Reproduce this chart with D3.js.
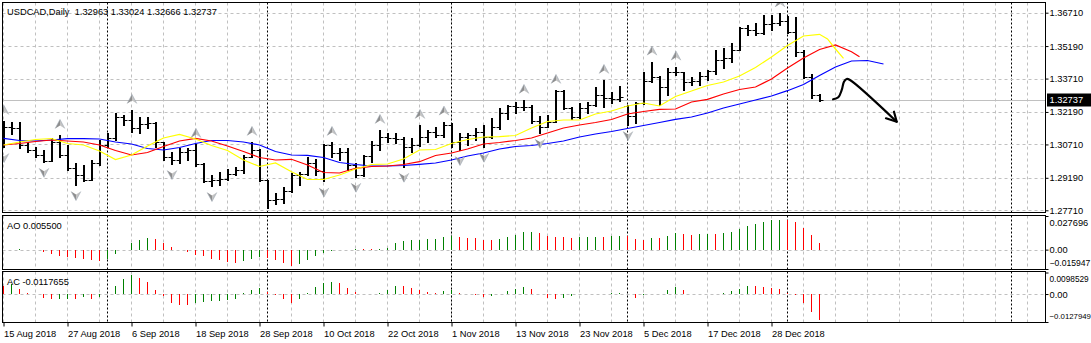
<!DOCTYPE html>
<html>
<head>
<meta charset="utf-8">
<script src="https://cdn.jsdelivr.net/npm/d3@7"></script>
<style>
  html, body { margin: 0; padding: 0; background: #ffffff; }
  svg { display: block; }
  text { font-family: "Liberation Sans", Arial, sans-serif; font-size: 9.3px; fill: #000; white-space: pre; }
</style>
</head>
<body>
<svg id="chart" width="1091" height="343"></svg>
<script>
// ---------------- USDCAD daily bars (index 0 = 15 Aug 2018) ----------------
const opens = [
  1.30900, 1.31504, 1.31481, 1.30684, 1.30457, 1.30229, 1.29955, 1.30835, 1.30229, 1.29637,
  1.29318, 1.29090, 1.29851, 1.30684, 1.31003, 1.31973, 1.31823, 1.31459, 1.31641, 1.31664,
  1.30821, 1.30138, 1.30001, 1.30379, 1.30457, 1.29819, 1.29044, 1.29090, 1.29113, 1.29363,
  1.29546, 1.30151, 1.30457, 1.29090, 1.28179, 1.28225, 1.28589, 1.29318, 1.29363, 1.29851,
  1.29500, 1.30684, 1.30320, 1.30343, 1.29773, 1.29318, 1.30183, 1.30684, 1.31049, 1.31003,
  1.30980, 1.30607, 1.30684, 1.31049, 1.31276, 1.31140, 1.31595, 1.30835, 1.31049, 1.31140,
  1.31290, 1.31049, 1.31518, 1.32128, 1.32461, 1.32402, 1.32415, 1.31791, 1.31518, 1.31746,
  1.33158, 1.32356, 1.31973, 1.32356, 1.32506, 1.32962, 1.32811, 1.32766, 1.32461, 1.32005,
  1.32584, 1.33600, 1.33795, 1.33340, 1.34023, 1.34009, 1.33568, 1.33600, 1.33827, 1.34069,
  1.34556, 1.34633, 1.35012, 1.36000, 1.35923, 1.35772, 1.36196, 1.36219, 1.36346, 1.35831,
  1.34934, 1.33768, 1.32963
];
const highs = [
  1.31777, 1.31732, 1.31709, 1.30835, 1.30607, 1.30457, 1.31003, 1.31140, 1.30684, 1.29851,
  1.29773, 1.30001, 1.30912, 1.31217, 1.32128, 1.32051, 1.32279, 1.31973, 1.31973, 1.31746,
  1.30835, 1.30379, 1.30534, 1.30534, 1.30730, 1.29864, 1.29318, 1.29468, 1.29591, 1.29696,
  1.30229, 1.30821, 1.30480, 1.29110, 1.28498, 1.28771, 1.29395, 1.29468, 1.30151, 1.30033,
  1.30730, 1.30821, 1.30534, 1.30534, 1.29851, 1.30229, 1.30880, 1.31368, 1.31217, 1.31217,
  1.31062, 1.30989, 1.31595, 1.31368, 1.31518, 1.31746, 1.31700, 1.31217, 1.31217, 1.31445,
  1.31595, 1.31900, 1.32356, 1.32506, 1.32657, 1.32734, 1.32506, 1.32005, 1.32051, 1.33190,
  1.33170, 1.32429, 1.32584, 1.32657, 1.33313, 1.33645, 1.33112, 1.33372, 1.32506, 1.32657,
  1.34023, 1.34479, 1.33827, 1.34178, 1.34251, 1.34023, 1.33795, 1.34023, 1.34101, 1.35012,
  1.35089, 1.35344, 1.36073, 1.36150, 1.36228, 1.36606, 1.36583, 1.36674, 1.36560, 1.36515,
  1.35012, 1.33918, 1.33024
];
const lows = [
  1.30593, 1.31185, 1.30548, 1.30379, 1.30151, 1.29918, 1.29940, 1.30151, 1.29546, 1.28862,
  1.29026, 1.29081, 1.29773, 1.30607, 1.30912, 1.31595, 1.31290, 1.31217, 1.31445, 1.30607,
  1.30001, 1.29819, 1.29851, 1.30001, 1.29728, 1.28981, 1.28817, 1.28862, 1.29090, 1.29340,
  1.29395, 1.30138, 1.29026, 1.27815, 1.27997, 1.28042, 1.28557, 1.28862, 1.29318, 1.29318,
  1.29026, 1.30151, 1.30001, 1.29546, 1.29240, 1.29290, 1.29918, 1.30457, 1.30835, 1.30762,
  1.29696, 1.30379, 1.30639, 1.30835, 1.31035, 1.31062, 1.30607, 1.30457, 1.30684, 1.30912,
  1.30607, 1.31020, 1.31399, 1.31855, 1.32156, 1.32279, 1.31700, 1.31245, 1.31491, 1.31720,
  1.32310, 1.31855, 1.31900, 1.32128, 1.32461, 1.32429, 1.32584, 1.32700, 1.31595, 1.31673,
  1.32552, 1.33568, 1.32506, 1.32962, 1.33873, 1.33190, 1.33417, 1.33417, 1.33645, 1.33918,
  1.34178, 1.34479, 1.34990, 1.35695, 1.35695, 1.35750, 1.35923, 1.36150, 1.35772, 1.34738,
  1.33740, 1.32811, 1.32666
];
const closes = [
  1.31504, 1.31481, 1.30684, 1.30457, 1.30229, 1.29955, 1.30835, 1.30229, 1.29637, 1.29318,
  1.29090, 1.29851, 1.30684, 1.31003, 1.31973, 1.31823, 1.31459, 1.31641, 1.31664, 1.30821,
  1.30138, 1.30001, 1.30379, 1.30457, 1.29819, 1.29044, 1.29090, 1.29113, 1.29363, 1.29546,
  1.30151, 1.30457, 1.29090, 1.28179, 1.28225, 1.28589, 1.29318, 1.29363, 1.29851, 1.29500,
  1.30684, 1.30320, 1.30343, 1.29773, 1.29318, 1.30183, 1.30684, 1.31049, 1.31003, 1.30980,
  1.30607, 1.30684, 1.31049, 1.31276, 1.31140, 1.31595, 1.30835, 1.31049, 1.31140, 1.31290,
  1.31049, 1.31518, 1.32128, 1.32461, 1.32402, 1.32415, 1.31791, 1.31518, 1.31746, 1.33158,
  1.32356, 1.31973, 1.32356, 1.32506, 1.32962, 1.32811, 1.32766, 1.32857, 1.32005, 1.32584,
  1.33600, 1.33795, 1.33340, 1.34023, 1.34009, 1.33568, 1.33600, 1.33827, 1.34069, 1.34556,
  1.34633, 1.35012, 1.36000, 1.35923, 1.35772, 1.36196, 1.36219, 1.36346, 1.35831, 1.34934,
  1.33768, 1.32963, 1.32737
];

// Bill Williams fractals (bar indices)
const fractalUp = [0, 7, 16, 24, 31, 41, 47, 52, 55, 65, 69, 75, 81, 84, 97];
const fractalDown = [0, 5, 9, 21, 26, 33, 40, 44, 50, 57, 60, 67, 78];

// Alligator lines, [bar, price]; already shifted forward (jaw 8, teeth 5, lips 3)
const jaw = [
  [0,1.30989],[2,1.30889],[4,1.30866],[6,1.30912],[8,1.30971],[10,1.30971],[12,1.30958],[14,1.30821],
  [16,1.30730],[18,1.30525],[20,1.30457],[22,1.30570],[24,1.30753],[26,1.30889],[28,1.30889],[30,1.30821],
  [32,1.30684],[34,1.30388],[36,1.30229],[38,1.30215],[40,1.30115],[42,1.29887],[44,1.29796],[46,1.29728],
  [48,1.29728],[50,1.29751],[52,1.29805],[54,1.29864],[56,1.30001],[58,1.30183],[60,1.30320],[62,1.30502],
  [64,1.30616],[66,1.30662],[68,1.30753],[70,1.30866],[72,1.31049],[74,1.31185],[76,1.31299],[78,1.31436],
  [80,1.31573],[82,1.31709],[84,1.31855],[86,1.31960],[88,1.32142],[90,1.32370],[92,1.32552],[94,1.32734],
  [96,1.32916],[98,1.33158],[100,1.33440],[102,1.33850],[104,1.34237],[106,1.34511],[108,1.34533],[110,1.34374]
];
const teeth = [
  [0,1.30684],[2,1.30753],[4,1.30844],[6,1.30912],[8,1.30866],[10,1.30821],[12,1.30684],[14,1.30434],
  [16,1.30229],[18,1.30343],[20,1.30616],[22,1.30866],[24,1.30989],[26,1.30866],[28,1.30639],[30,1.30388],
  [32,1.30115],[34,1.30001],[36,1.30033],[38,1.29773],[40,1.29432],[42,1.29409],[44,1.29623],[46,1.29705],
  [48,1.29728],[50,1.29796],[52,1.29924],[54,1.30206],[56,1.30320],[58,1.30502],[60,1.30730],[62,1.30798],
  [64,1.30889],[66,1.31003],[68,1.31231],[70,1.31459],[72,1.31595],[74,1.31709],[76,1.31846],[78,1.32096],
  [80,1.32210],[82,1.32310],[84,1.32324],[86,1.32643],[88,1.32766],[90,1.33007],[92,1.33212],[94,1.33326],
  [96,1.33691],[98,1.34192],[100,1.34647],[102,1.35034],[104,1.35239],[106,1.34934],[107,1.34706]
];
const lips = [
  [0,1.30684],[2,1.30821],[4,1.30935],[6,1.30980],[8,1.30753],[10,1.30684],[12,1.30411],[14,1.30024],
  [16,1.30229],[18,1.30639],[20,1.31003],[22,1.31163],[24,1.30958],[26,1.30661],[28,1.30434],[30,1.30001],
  [32,1.29705],[34,1.29864],[36,1.29468],[38,1.29113],[40,1.29113],[42,1.29318],[44,1.29591],[46,1.29796],
  [48,1.29819],[50,1.30047],[52,1.30457],[54,1.30479],[56,1.30753],[58,1.30935],[60,1.31049],[62,1.31067],
  [64,1.31117],[66,1.31459],[68,1.31755],[70,1.31823],[72,1.31823],[74,1.32096],[76,1.32233],[78,1.32461],
  [80,1.32597],[82,1.32461],[84,1.32893],[86,1.33144],[88,1.33394],[90,1.33554],[92,1.33827],[94,1.34215],
  [96,1.34693],[98,1.35217],[100,1.35649],[102,1.35727],[103,1.35513],[104,1.35057],[105,1.34633]
];

// Awesome Oscillator and Accelerator/Decelerator values per bar
const aoPrev = 0.0000;
const ao = [
  0.0001, 0.0000, 0.0002, 0.0000, -0.0003, -0.0020, -0.0034, -0.0050, -0.0060, -0.0069,
  -0.0077, -0.0086, -0.0094, -0.0077, -0.0034, -0.0003, 0.0054, 0.0076, 0.0098, 0.0087,
  0.0054, 0.0024, 0.0001, -0.0020, -0.0042, -0.0055, -0.0075, -0.0083, -0.0105, -0.0110,
  -0.0096, -0.0075, -0.0063, -0.0066, -0.0083, -0.0110, -0.0133, -0.0115, -0.0085, -0.0055,
  -0.0030, -0.0012, -0.0003, -0.0001, 0.0004, 0.0003, 0.0002, 0.0004, 0.0012, 0.0054,
  0.0068, 0.0076, 0.0082, 0.0086, 0.0088, 0.0104, 0.0110, 0.0102, 0.0096, 0.0095,
  0.0082, 0.0077, 0.0088, 0.0104, 0.0118, 0.0143, 0.0145, 0.0137, 0.0115, 0.0104,
  0.0103, 0.0096, 0.0104, 0.0105, 0.0107, 0.0105, 0.0110, 0.0115, 0.0110, 0.0088,
  0.0082, 0.0096, 0.0095, 0.0115, 0.0137, 0.0132, 0.0121, 0.0129, 0.0132, 0.0129,
  0.0137, 0.0145, 0.0173, 0.0198, 0.0214, 0.0231, 0.0242, 0.0247, 0.0242, 0.0225,
  0.0178, 0.0121, 0.005500
];
const acPrev = 0.0040;
const ac = [
  0.0036, 0.0044, 0.0024, 0.0006, 0.0001, -0.0017, -0.0024, -0.0023, -0.0021, -0.0022,
  -0.0015, -0.0021, -0.0012, -0.0002, 0.0039, 0.0069, 0.0085, 0.0074, 0.0056, 0.0020,
  -0.0009, -0.0039, -0.0051, -0.0052, -0.0042, -0.0036, -0.0032, -0.0030, -0.0027, -0.0021,
  0.0006, 0.0018, 0.0029, 0.0011, -0.0006, -0.0024, -0.0039, -0.0024, 0.0006, 0.0033,
  0.0051, 0.0056, 0.0051, 0.0029, 0.0010, 0.0000, -0.0001, 0.0006, 0.0018, 0.0039,
  0.0036, 0.0028, 0.0018, 0.0011, 0.0006, 0.0015, 0.0018, 0.0006, 0.0000, -0.0005,
  -0.0012, -0.0009, 0.0002, 0.0014, 0.0024, 0.0033, 0.0024, 0.0002, -0.0017, -0.0021,
  -0.0017, -0.0009, 0.0000, 0.0001, 0.0002, 0.0001, 0.0003, 0.0006, 0.0000, -0.0017,
  -0.0004, -0.0002, 0.0002, 0.0018, 0.0033, 0.0018, 0.0002, 0.0000, -0.0001, -0.0002,
  0.0003, 0.0012, 0.0024, 0.0039, 0.0037, 0.0033, 0.0027, 0.0021, 0.0006, -0.0006,
  -0.0042, -0.0080, -0.0117655
];

// Axis labels
const priceTicks = [1.36710, 1.35190, 1.33710, 1.32190, 1.30710, 1.29190, 1.27710];
const aoRange = [-0.015947, 0.027696];
const acRange = [-0.0127949, 0.0098529];
const dateBars = [0, 8, 16, 24, 32, 40, 48, 56, 64, 72, 80, 88, 96];
const dateLabels = ["15 Aug 2018", "27 Aug 2018", "6 Sep 2018", "18 Sep 2018", "28 Sep 2018",
  "10 Oct 2018", "22 Oct 2018", "1 Nov 2018", "13 Nov 2018", "23 Nov 2018", "5 Dec 2018",
  "17 Dec 2018", "28 Dec 2018"];
const monthStarts = [13, 33, 56, 78, 98, 126];
const symbol = "USDCAD,Daily";
const lastBid = 1.32737;

// Hand-drawn forecast arrow, [bar, price]
const forecastPath = [[103.7,1.32766],[104.35,1.32857],[104.78,1.33190],[105.06,1.33568],
  [105.4,1.33691],[105.81,1.33645],[111.65,1.31746]];
const forecastHead = [[110.31,1.31900],[111.65,1.31746],[111.31,1.32201]];

// ---------------- layout ----------------
const L = 2.5, R = 1045.5;
const main = { top: 2.5, bottom: 212.5 };
const aoP = { top: 215.5, bottom: 269.5 };
const acP = { top: 271.5, bottom: 322.5 };

const svg = d3.select("#chart");
const x = d3.scaleLinear().domain([0, 1]).range([3.5, 11.5]);
const y = d3.scaleLinear().domain([1.2771, 1.3671]).range([210.3, 12.7]);
const yAO = d3.scaleLinear().domain(aoRange).range([269, 216]);
const yAC = d3.scaleLinear().domain(acRange).range([322, 272.5]);
const snap = v => Math.round(v) + 0.5;

// clip paths for the panels
const defs = svg.append("defs");
[["clipMain", main], ["clipAO", aoP], ["clipAC", acP]].forEach(([id, p]) => {
  defs.append("clipPath").attr("id", id).append("rect")
    .attr("x", L).attr("y", p.top).attr("width", R - L).attr("height", p.bottom - p.top);
});

const gridColor = "#c0c0c0";
const lastBar = 130;
const gridBars = d3.range(0, lastBar, 4).filter(i => x(i) < R - 2);

function panelGrid(p, clip) {
  const g = svg.append("g").attr("clip-path", `url(#${clip})`);
  g.selectAll("line.vg").data(gridBars).join("line")
    .attr("x1", d => x(d)).attr("x2", d => x(d))
    .attr("y1", p.top).attr("y2", p.bottom)
    .attr("stroke", gridColor).attr("stroke-dasharray", "3,3");
  g.selectAll("line.sep").data(monthStarts).join("line")
    .attr("x1", d => x(d)).attr("x2", d => x(d))
    .attr("y1", p.top).attr("y2", p.bottom)
    .attr("stroke", "#000").attr("stroke-dasharray", "2,2");
  return g;
}

// ---------------- main price panel ----------------
const gMain = panelGrid(main, "clipMain");
gMain.selectAll("line.hg").data(priceTicks).join("line")
  .attr("x1", L).attr("x2", R)
  .attr("y1", d => snap(y(d))).attr("y2", d => snap(y(d)))
  .attr("stroke", gridColor).attr("stroke-dasharray", "3,3");

// bid line
gMain.append("line")
  .attr("x1", L).attr("x2", R)
  .attr("y1", snap(y(lastBid))).attr("y2", snap(y(lastBid)))
  .attr("stroke", "#c0c0c0");

// OHLC bars: 2px stem, 1px open/close ticks
const bars = gMain.append("g").attr("stroke", "#000");
closes.forEach((c, i) => {
  const cx = x(i);
  const yh = Math.round(y(highs[i])), yl = Math.round(y(lows[i]));
  bars.append("line").attr("x1", cx + 0.5).attr("x2", cx + 0.5).attr("y1", yh).attr("y2", yl + 1)
    .attr("stroke-width", 2);
  bars.append("line").attr("x1", cx - 3).attr("x2", cx).attr("y1", snap(y(opens[i]))).attr("y2", snap(y(opens[i])));
  bars.append("line").attr("x1", cx + 1).attr("x2", cx + 4).attr("y1", snap(y(closes[i]))).attr("y2", snap(y(closes[i])));
});

// Alligator
const alligatorLine = d3.line().x(d => x(d[0])).y(d => y(d[1]));
[[jaw, "#0000ff"], [teeth, "#ff0000"], [lips, "#ffff00"]].forEach(([pts, col]) => {
  gMain.append("path").datum(pts).attr("d", alligatorLine)
    .attr("fill", "none").attr("stroke", col).attr("stroke-width", 1.2);
});

// Fractals
function fractal(g, cx, cy, up) {
  const s = up ? 1 : -1;
  g.append("path")
    .attr("d", `M${cx},${cy - 4.5 * s} L${cx - 4.8},${cy + 4.5 * s} L${cx},${cy + 1.6 * s} Z`)
    .attr("fill", "#8e8e8e");
  g.append("path")
    .attr("d", `M${cx},${cy - 4.5 * s} L${cx + 4.8},${cy + 4.5 * s} L${cx},${cy + 1.6 * s} Z`)
    .attr("fill", "#c4c4c4");
  g.append("path")
    .attr("d", `M${cx - 4.8},${cy + 4.5 * s} L${cx},${cy - 4.5 * s} L${cx + 4.8},${cy + 4.5 * s}`)
    .attr("fill", "none").attr("stroke", "#9aa4b0").attr("stroke-width", 0.6);
}
const gFr = gMain.append("g");
fractalUp.forEach(i => fractal(gFr, x(i) + 0.5, y(highs[i]) - 11, true));
fractalDown.forEach(i => fractal(gFr, x(i) + 0.5, y(lows[i]) + 11, false));

// forecast arrow
const fLine = d3.line().x(d => x(d[0])).y(d => y(d[1])).curve(d3.curveCatmullRom.alpha(0.5));
gMain.append("path").datum(forecastPath).attr("d", fLine)
  .attr("fill", "none").attr("stroke", "#000").attr("stroke-width", 2.2)
  .attr("stroke-linecap", "round").attr("stroke-linejoin", "round");
gMain.append("path").datum(forecastHead).attr("d", d3.line().x(d => x(d[0])).y(d => y(d[1])))
  .attr("fill", "none").attr("stroke", "#000").attr("stroke-width", 2.2)
  .attr("stroke-linecap", "round").attr("stroke-linejoin", "round");

// ---------------- AO panel ----------------
const gAO = panelGrid(aoP, "clipAO");
gAO.append("line").attr("x1", L).attr("x2", R)
  .attr("y1", snap(yAO(0))).attr("y2", snap(yAO(0)))
  .attr("stroke", gridColor).attr("stroke-dasharray", "3,3");
gAO.selectAll("line.ao").data(ao).join("line")
  .attr("x1", (d, i) => x(i)).attr("x2", (d, i) => x(i))
  .attr("y1", Math.round(yAO(0))).attr("y2", d => Math.round(yAO(d)))
  .attr("stroke", (d, i) => d > (i === 0 ? aoPrev : ao[i - 1]) ? "#008000" : "#ff0000");

// ---------------- AC panel ----------------
const gAC = panelGrid(acP, "clipAC");
gAC.append("line").attr("x1", L).attr("x2", R)
  .attr("y1", snap(yAC(0))).attr("y2", snap(yAC(0)))
  .attr("stroke", gridColor).attr("stroke-dasharray", "3,3");
gAC.selectAll("line.ac").data(ac).join("line")
  .attr("x1", (d, i) => x(i)).attr("x2", (d, i) => x(i))
  .attr("y1", Math.round(yAC(0))).attr("y2", d => Math.round(yAC(d)))
  .attr("stroke", (d, i) => d > (i === 0 ? acPrev : ac[i - 1]) ? "#008000" : "#ff0000");

// ---------------- frames ----------------
[main, aoP, acP].forEach(p => {
  svg.append("rect").attr("x", L).attr("y", p.top)
    .attr("width", R - L).attr("height", p.bottom - p.top)
    .attr("fill", "none").attr("stroke", "#000");
});

// ---------------- axes ----------------
function styleAxis(g) {
  g.attr("font-family", null).attr("font-size", null);
  g.select(".domain").remove();
  g.selectAll(".tick line").attr("stroke", "#000");
  g.selectAll(".tick text").attr("fill", "#000");
}
svg.append("g").attr("transform", `translate(${R},0)`)
  .call(d3.axisRight(y).tickValues(priceTicks).tickFormat(d3.format(".5f")).tickSize(3).tickPadding(1))
  .call(styleAxis);

const aoAxis = svg.append("g").attr("transform", `translate(${R},0)`)
  .call(d3.axisRight(yAO).tickValues([aoRange[1], 0, aoRange[0]])
    .tickFormat(d => d === 0 ? "0.00" : d3.format(".6f")(d)).tickSize(3).tickPadding(1))
  .call(styleAxis);
aoAxis.selectAll(".tick text").attr("y", d => d === aoRange[1] ? 6.5 : d === aoRange[0] ? -6.5 : 0)
  .style("font-size", d => d === aoRange[0] ? "8.6px" : null);

const acAxis = svg.append("g").attr("transform", `translate(${R},0)`)
  .call(d3.axisRight(yAC).tickValues([acRange[1], 0, acRange[0]])
    .tickFormat(d => d === 0 ? "0.00" : d3.format(".7f")(d)).tickSize(3).tickPadding(1))
  .call(styleAxis);
acAxis.selectAll(".tick text").attr("y", d => d === acRange[1] ? 6.5 : d === acRange[0] ? -6.5 : 0)
  .style("font-size", d => d === 0 ? null : d === acRange[0] ? "7.8px" : "8.3px");

const dateAxis = svg.append("g").attr("transform", `translate(0,${acP.bottom})`)
  .call(d3.axisBottom(x).tickValues(dateBars).tickFormat((d, k) => dateLabels[k]).tickSize(4).tickPadding(2))
  .call(styleAxis);
dateAxis.selectAll(".tick text").attr("text-anchor", "start").attr("x", 0).attr("dy", "0.95em");

// bid price tag
const bidY = y(lastBid);
svg.append("rect").attr("x", R + 1.5).attr("y", Math.round(bidY) - 6.5).attr("width", 45).attr("height", 13).attr("fill", "#000");
svg.append("text").attr("x", R + 4).attr("y", bidY).attr("dy", "0.32em")
  .style("fill", "#fff").text(d3.format(".5f")(lastBid));

// ---------------- titles ----------------
const fmt5 = d3.format(".5f");
const n = closes.length - 1;
svg.append("text").attr("x", 7).attr("y", 14.5).attr("xml:space", "preserve")
  .text(`${symbol}  ${fmt5(opens[n])} ${fmt5(highs[n])} ${fmt5(lows[n])} ${fmt5(closes[n])}`);
svg.append("text").attr("x", 7).attr("y", 228.7).text(`AO ${d3.format(".6f")(ao[ao.length - 1])}`);
svg.append("text").attr("x", 7).attr("y", 284.7).text(`AC ${ac[ac.length - 1]}`);
</script>
</body>
</html>
